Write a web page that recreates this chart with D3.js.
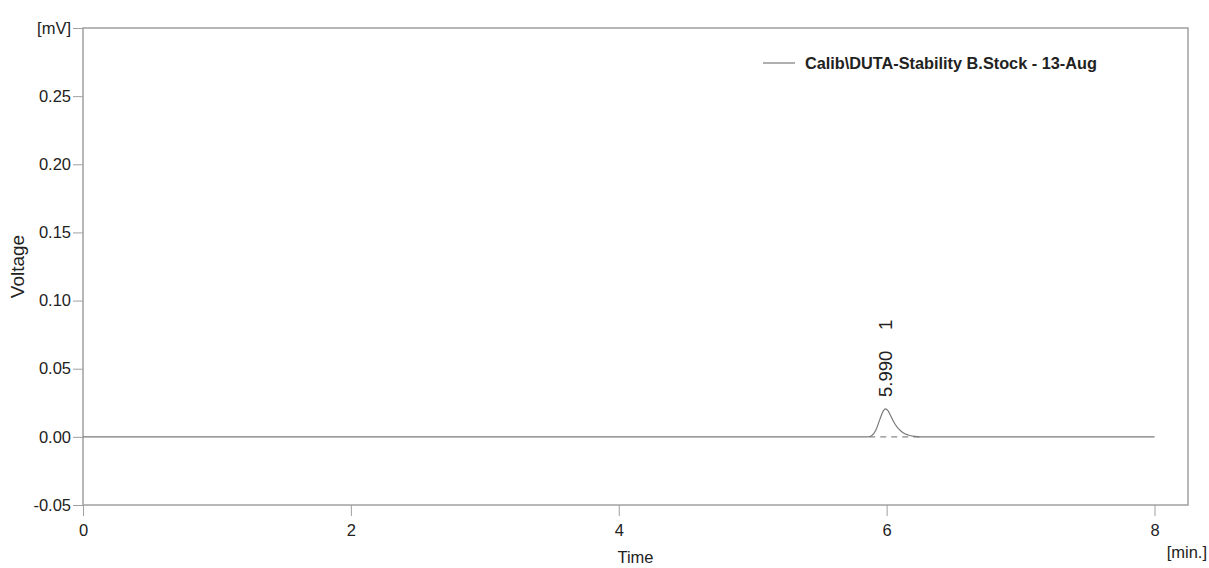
<!DOCTYPE html>
<html>
<head>
<meta charset="utf-8">
<script src="https://cdn.jsdelivr.net/npm/d3@7"></script>
<style>
  html, body { margin: 0; padding: 0; background: #fff; }
  svg { display: block; font-family: "Liberation Sans", Arial, sans-serif; }
</style>
</head>
<body>
<svg id="chart" width="1209" height="568"></svg>
<script>
// Chromatogram trace (time in min, signal in mV)
const timeMin = [0, 5.86, 5.89, 5.92, 5.95, 5.97, 5.99, 6.01, 6.03, 6.06, 6.09, 6.12, 6.16, 6.21, 6.27, 8.0];
const voltage = [0, 0, 0.001, 0.005, 0.013, 0.018, 0.0205, 0.0192, 0.0155, 0.0098, 0.0058, 0.0032, 0.0014, 0.0004, 0, 0];

// Integrated peak: retention time, number, baseline start/end
const peakRT = [5.990];
const peakNo = ["1"];
const peakApex = [0.0205];
const baseStart = [5.87];
const baseEnd = [6.27];

const xTicks = [0, 2, 4, 6, 8];
const yTicks = [-0.05, 0.00, 0.05, 0.10, 0.15, 0.20, 0.25, 0.30];
const yTickLabels = ["-0.05", "0.00", "0.05", "0.10", "0.15", "0.20", "0.25", "[mV]"];

const legendLabel = "Calib\\DUTA-Stability B.Stock - 13-Aug";

const svg = d3.select("#chart");
const m = { left: 83, top: 28, right: 1188, bottom: 505 };

const x = d3.scaleLinear().domain([0, 8.25]).range([m.left, m.right]);
const y = d3.scaleLinear().domain([-0.05, 0.30]).range([m.bottom, m.top]);

const frameColor = "#a0a0a0";
const textColor = "#222";

// Y axis
const yAxis = svg.append("g")
  .attr("transform", `translate(${m.left},0)`)
  .call(d3.axisLeft(y).tickValues(yTicks).tickSize(10).tickPadding(2)
    .tickFormat((d, i) => yTickLabels[i]));
yAxis.select(".domain").remove();
yAxis.selectAll("line").attr("stroke", frameColor);
yAxis.selectAll("text").attr("fill", textColor).style("font-size", "16.5px");

// X axis
const xAxis = svg.append("g")
  .attr("transform", `translate(0,${m.bottom})`)
  .call(d3.axisBottom(x).tickValues(xTicks).tickSize(11).tickPadding(8).tickFormat(d3.format("d")));
xAxis.select(".domain").remove();
xAxis.selectAll("line").attr("stroke", frameColor);
xAxis.selectAll("text").attr("fill", textColor).style("font-size", "16.5px");

// Plot frame
svg.append("rect")
  .attr("x", m.left).attr("y", m.top)
  .attr("width", m.right - m.left).attr("height", m.bottom - m.top)
  .attr("fill", "none").attr("stroke", frameColor).attr("stroke-width", 1.5);

// Axis titles and units
svg.append("text")
  .attr("transform", `translate(24,${(m.top + m.bottom) / 2}) rotate(-90)`)
  .attr("text-anchor", "middle").attr("fill", textColor).style("font-size", "19px")
  .text("Voltage");
svg.append("text")
  .attr("x", (m.left + m.right) / 2).attr("y", 563)
  .attr("text-anchor", "middle").attr("fill", textColor).style("font-size", "16.5px")
  .text("Time");
svg.append("text")
  .attr("x", 1207).attr("y", 558)
  .attr("text-anchor", "end").attr("fill", textColor).style("font-size", "16.5px")
  .text("[min.]");

// Peak baseline (dashed)
svg.selectAll(".peak-base").data(peakRT).join("line")
  .attr("class", "peak-base")
  .attr("x1", (d, i) => x(baseStart[i])).attr("x2", (d, i) => x(baseEnd[i]))
  .attr("y1", y(0)).attr("y2", y(0))
  .attr("stroke", "#888").attr("stroke-width", 1.2).attr("stroke-dasharray", "6,5");

// Signal trace
const pts = timeMin.map((t, i) => [t, voltage[i]]);
svg.append("path")
  .datum(pts)
  .attr("fill", "none").attr("stroke", "#7a7a7a").attr("stroke-width", 1.2)
  .attr("d", d3.line().x(d => x(d[0])).y(d => y(d[1])).curve(d3.curveMonotoneX));

// Peak annotation (rotated)
svg.selectAll(".peak-label").data(peakRT).join("text")
  .attr("class", "peak-label")
  .attr("transform", (d, i) => `translate(${x(d) + 7},${y(peakApex[i]) - 12}) rotate(-90)`)
  .attr("fill", textColor).style("font-size", "18.5px")
  .style("white-space", "pre")
  .text((d, i) => d3.format(".3f")(d) + "    " + peakNo[i]);

// Legend
svg.append("line")
  .attr("x1", 763).attr("x2", 795).attr("y1", 63).attr("y2", 63)
  .attr("stroke", "#7a7a7a").attr("stroke-width", 1.2);
svg.append("text")
  .attr("x", 805).attr("y", 69)
  .attr("fill", textColor).style("font-size", "16.3px").style("font-weight", "bold")
  .text(legendLabel);
</script>
</body>
</html>
